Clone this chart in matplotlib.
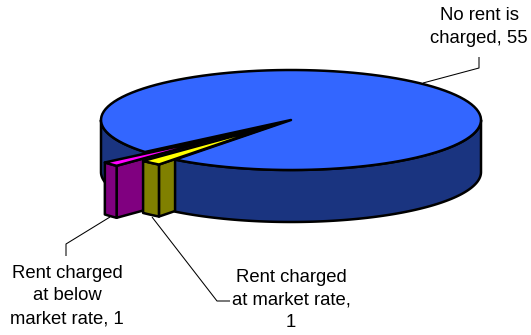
import numpy as np
import matplotlib
matplotlib.use("Agg")
import matplotlib.pyplot as plt
from matplotlib.patches import Polygon

# data
categories = ["No rent is\ncharged, 55", "Rent charged\nat below\nmarket rate, 1", "Rent charged\nat market rate,\n1"]
values = [55, 1, 1]

# projection / style
CX, CY, RX, RY, DEPTH = 291, 120, 190, 50, 52
START = 127.6
LW = 1.8
BLUE_TOP, BLUE_SIDE = "#3366FF", "#1A3480"
MAG_TOP, MAG_SIDE = "#FF00FF", "#800080"
YEL_TOP, YEL_SIDE = "#FFFF00", "#808000"
EDGE = "black"
FS = 13.3

plt.rcParams["font.family"] = ["Liberation Sans", "DejaVu Sans"]
fig = plt.figure(figsize=(5.31, 3.35), dpi=100)
ax = fig.add_axes([0, 0, 1, 1])
ax.set_xlim(0, 531)
ax.set_ylim(335, 0)
ax.axis("off")

spans = np.array(values, dtype=float) / sum(values) * 360.0
yel_a = START
yel_b = yel_a + spans[2]
mag_a = yel_b
mag_b = mag_a + spans[1]
blue_a = mag_b
blue_b = START + 360


def pt(t, r=1.0, origin=(0.0, 0.0), dz=0.0):
    t = np.radians(t)
    return (CX + RX * (origin[0] + r * np.cos(t)),
            CY + RY * (origin[1] + r * np.sin(t)) + dz)


def arc(a, b, r=1.0, origin=(0.0, 0.0), dz=0.0, n=120):
    return [pt(t, r, origin, dz) for t in np.linspace(a, b, n)]


def poly(points, fc, z):
    ax.add_patch(Polygon(points, closed=True, fc=fc, ec=EDGE, lw=LW, joinstyle="round", zorder=z))


def apex_of(a, b, e):
    m = np.radians((a + b) / 2)
    return (e * np.cos(m), e * np.sin(m))


mag_o = apex_of(mag_a, mag_b, 0.472)
yel_o = apex_of(yel_a, yel_b, 0.13)
mag_s, yel_s = 0.825, 1.0

# blue left wall, behind the exploded slices
poly(arc(blue_a, 180) + arc(180, blue_a, dz=DEPTH), BLUE_SIDE, 1)
# the empty cut in the top
poly([(CX, CY)] + arc(yel_a, mag_b), EDGE, 2)


# inner walls of the exploded slices
def inner_wall(a, o, s, fc, z):
    p = pt(a, s, o)
    q = pt(0, 0, o)
    poly([p, q, (q[0], q[1] + DEPTH), (p[0], p[1] + DEPTH)], fc, z)


inner_wall(mag_a, mag_o, mag_s, MAG_SIDE, 3)
inner_wall(yel_a, yel_o, yel_s, YEL_SIDE, 4)

# main slice: front wall and top
poly(arc(0, yel_a) + arc(yel_a, 0, dz=DEPTH), BLUE_SIDE, 5)
poly([(CX, CY)] + arc(blue_a, blue_b), BLUE_TOP, 6)

# exploded slices: outer wall and top
poly(arc(mag_a, mag_b, mag_s, mag_o) + arc(mag_b, mag_a, mag_s, mag_o, DEPTH), MAG_SIDE, 7)
poly([pt(0, 0, mag_o)] + arc(mag_a, mag_b, mag_s, mag_o), MAG_TOP, 8)
poly(arc(yel_a, yel_b, yel_s, yel_o) + arc(yel_b, yel_a, yel_s, yel_o, DEPTH), YEL_SIDE, 9)
poly([pt(0, 0, yel_o)] + arc(yel_a, yel_b, yel_s, yel_o), YEL_TOP, 10)

# leaders
leaders = [
    ([423, 479, 479], [83, 68, 57]),
    ([110, 66, 66], [217, 244, 256]),
    ([152, 217, 230], [217, 301, 301]),
]
for xs, ys in leaders:
    ax.plot(xs, ys, color="black", lw=0.75, zorder=11, solid_capstyle="butt")

# labels
label_pos = [(479, 27), (67, 296), (291, 300)]
for s, (x, y) in zip(categories, label_pos):
    ax.text(x, y, s, ha="center", va="center", fontsize=FS, color="black",
            linespacing=1.45, zorder=12)

fig.savefig("out.png", dpi=100)
